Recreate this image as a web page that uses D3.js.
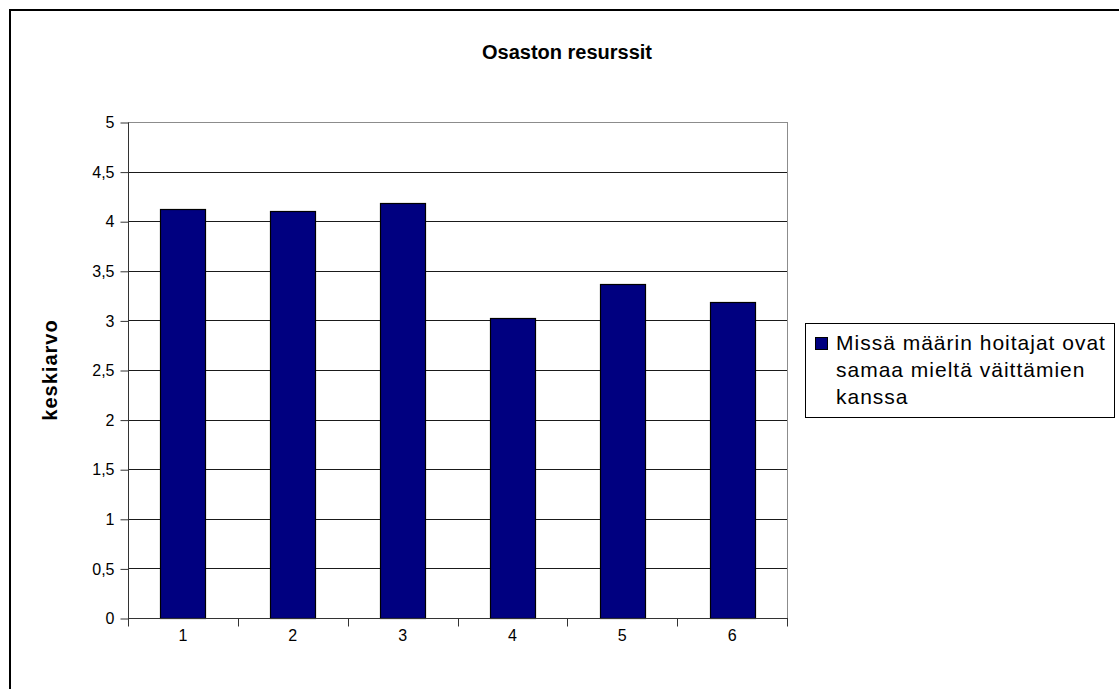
<!DOCTYPE html>
<html>
<head>
<meta charset="utf-8">
<script src="https://cdn.jsdelivr.net/npm/d3@7"></script>
<style>
  html, body { margin: 0; padding: 0; background: #fff; }
  svg { display: block; font-family: "Liberation Sans", Arial, sans-serif; }
</style>
</head>
<body>
<svg id="chart" width="1119" height="689"></svg>
<script>
// Category labels and mean scores
const categories = ["1", "2", "3", "4", "5", "6"];
const values = [4.12, 4.10, 4.18, 3.02, 3.37, 3.19];
const yTicks = [0, 0.5, 1, 1.5, 2, 2.5, 3, 3.5, 4, 4.5, 5];
const yTickLabels = ["0", "0,5", "1", "1,5", "2", "2,5", "3", "3,5", "4", "4,5", "5"];
const seriesName = ["Missä määrin hoitajat ovat", "samaa mieltä väittämien", "kanssa"];
const chartTitle = "Osaston resurssit";
const yAxisTitle = "keskiarvo";

const svg = d3.select("#chart");
const W = 1119, H = 689;
const plot = { left: 128, right: 787, top: 122, bottom: 618 };
const barColor = "#000080";

// Outer chart frame
svg.append("rect")
  .attr("x", 10).attr("y", 10)
  .attr("width", W + 20).attr("height", H + 20)
  .attr("fill", "#fff").attr("stroke", "#000").attr("stroke-width", 2);

const x = d3.scaleBand().domain(categories)
  .range([plot.left, plot.right]).paddingInner(0.59).paddingOuter(0.295);
const xCat = d3.scaleBand().domain(categories).range([plot.left, plot.right]);
const y = d3.scaleLinear().domain([0, 5]).range([plot.bottom, plot.top]);

// Gridlines
svg.append("g").selectAll("line")
  .data(yTicks.filter(t => t > 0))
  .join("line")
  .attr("x1", plot.left).attr("x2", plot.right)
  .attr("y1", d => Math.round(y(d)) + 0.5).attr("y2", d => Math.round(y(d)) + 0.5)
  .attr("stroke", d => d === 5 ? "#8c8c8c" : "#1a1a1a").attr("stroke-width", 1);

// Plot area right border
svg.append("line")
  .attr("x1", plot.right + 0.5).attr("x2", plot.right + 0.5)
  .attr("y1", plot.top).attr("y2", plot.bottom)
  .attr("stroke", "#8c8c8c");

// Bars
svg.append("g").selectAll("rect")
  .data(values)
  .join("rect")
  .attr("x", (d, i) => Math.round(x(categories[i])) + 0.5)
  .attr("width", Math.round(x.bandwidth()))
  .attr("y", d => Math.round(y(d)) + 0.5)
  .attr("height", d => y(0) - Math.round(y(d)))
  .attr("fill", barColor)
  .attr("stroke", "#000").attr("stroke-width", 1.2);

// Y axis
const yAxis = d3.axisLeft(y).tickValues(yTicks)
  .tickFormat((d, i) => yTickLabels[i]).tickSize(8).tickPadding(6);
const gy = svg.append("g").attr("transform", `translate(${plot.left + 0.5},0.5)`).call(yAxis);
gy.select(".domain").attr("stroke", "#333").attr("d", `M0,${plot.top}V${plot.bottom}`);
gy.selectAll(".tick line").attr("stroke", "#333");
gy.selectAll(".tick text").attr("font-size", 16).attr("fill", "#000")
  .attr("font-family", "Liberation Sans, Arial, sans-serif");

// X axis with ticks at category boundaries
const gx = svg.append("g").attr("transform", `translate(0,${plot.bottom + 0.5})`);
gx.append("line").attr("x1", plot.left).attr("x2", plot.right + 1)
  .attr("stroke", "#333");
const boundaries = categories.map(c => xCat(c)).concat([plot.right]);
gx.selectAll("line.tk").data(boundaries).join("line").attr("class", "tk")
  .attr("x1", d => Math.round(d) + 0.5).attr("x2", d => Math.round(d) + 0.5)
  .attr("y1", 0).attr("y2", 8).attr("stroke", "#333");
gx.selectAll("text").data(categories).join("text")
  .attr("x", d => xCat(d) + xCat.bandwidth() / 2)
  .attr("y", 22)
  .attr("text-anchor", "middle")
  .attr("font-size", 16)
  .text(d => d);

// Title
svg.append("text")
  .attr("x", 567).attr("y", 59)
  .attr("text-anchor", "middle")
  .attr("font-size", 20).attr("font-weight", "bold")
  .text(chartTitle);

// Y axis title
svg.append("text")
  .attr("transform", `translate(57,${(plot.top + plot.bottom) / 2}) rotate(-90)`)
  .attr("text-anchor", "middle")
  .attr("font-size", 20).attr("font-weight", "bold")
  .attr("letter-spacing", 1)
  .text(yAxisTitle);

// Legend
const lg = svg.append("g");
lg.append("rect")
  .attr("x", 805.5).attr("y", 323.5).attr("width", 309).attr("height", 94)
  .attr("fill", "#fff").attr("stroke", "#000");
lg.append("rect")
  .attr("x", 815.5).attr("y", 337.5).attr("width", 12).attr("height", 12)
  .attr("fill", barColor).attr("stroke", "#000");
lg.selectAll("text.leg").data(seriesName).join("text").attr("class", "leg")
  .attr("x", 836).attr("y", (d, i) => 350 + i * 27)
  .attr("font-size", 21)
  .attr("letter-spacing", 1)
  .text(d => d);
</script>
</body>
</html>
